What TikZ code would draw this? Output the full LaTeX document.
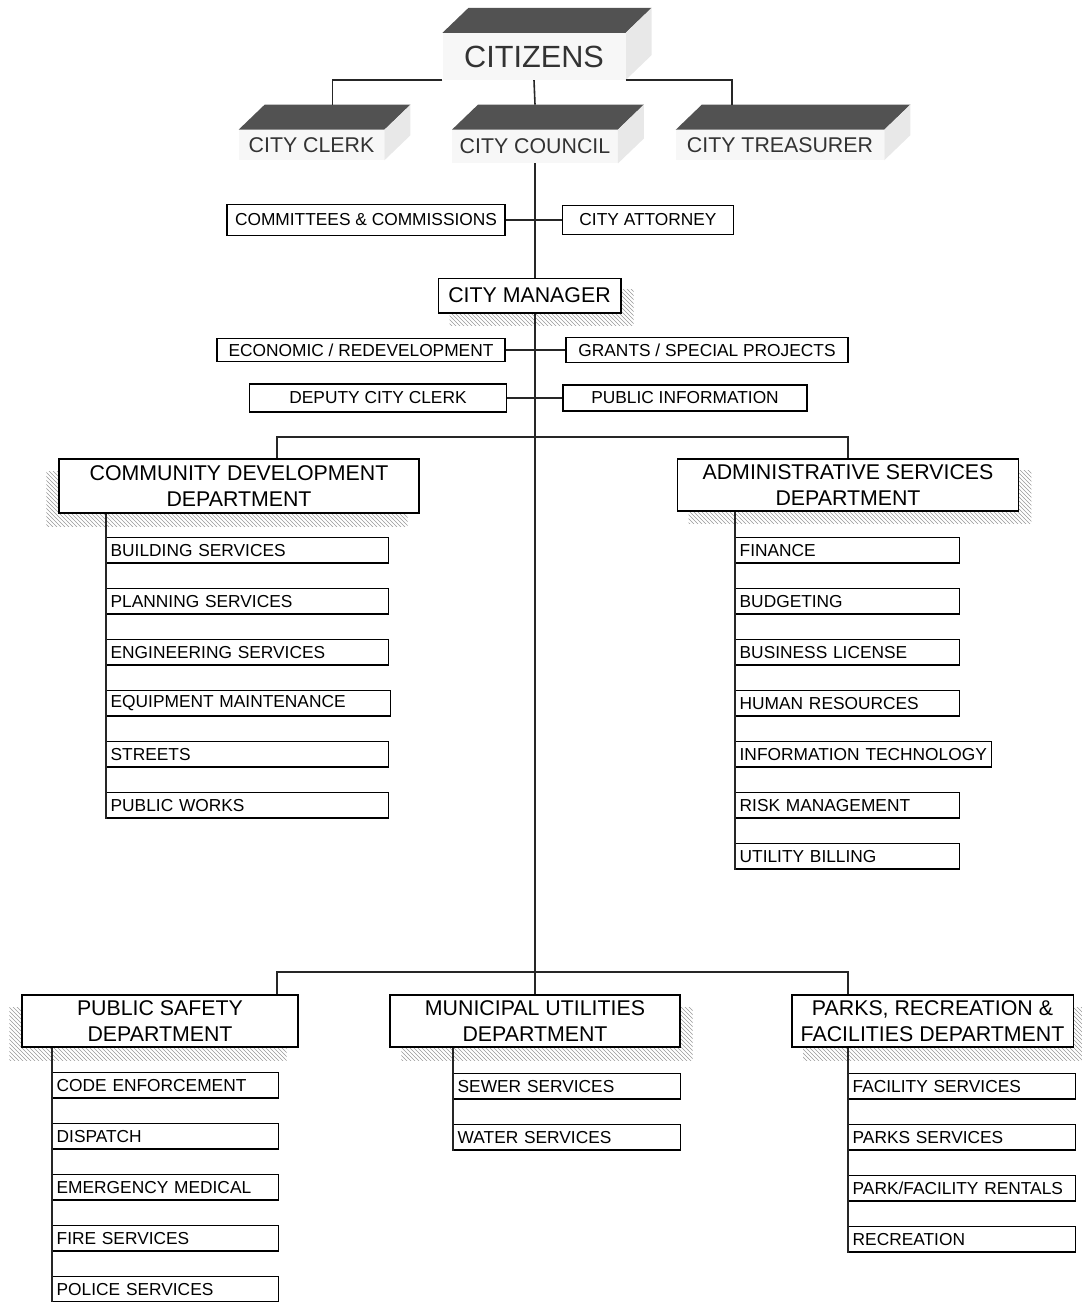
\documentclass[tikz,border=0pt]{standalone}
\usepackage{fontspec}
\setmainfont{Liberation Sans}
\usepackage{tikz}
\usetikzlibrary{calc,positioning,patterns}
\pgfdeclarelayer{bg}
\pgfsetlayers{bg,main}
\tikzstyle{link}=[line width=1.2pt,black!85]
\tikzstyle{Cthree}=[fill=gray!6,inner sep=0pt,text=black!80,font=\fontsize{16}{19}\selectfont]
\tikzstyle{Ctop}=[fill=black!68]
\tikzstyle{Cside}=[fill=gray!18]
\tikzstyle{Cbox}=[draw,line width=1pt,fill=white,inner sep=1pt,font=\fontsize{13}{15}\selectfont]
\tikzstyle{Chead}=[draw,line width=1pt,fill=white,inner sep=1pt,align=center,
               font=\fontsize{16}{20}\selectfont]
\tikzstyle{Cshadow}=[pattern=north west lines,pattern color=gray!80]
\tikzset{Cunit/.style={draw,line width=1pt,fill=white,anchor=north west,align=left,
               text width=#1,minimum height=19pt,inner xsep=3pt,inner ysep=0pt,
               font=\fontsize{13}{15}\selectfont}}

\begin{document}
\begin{tikzpicture}[x=0.75pt,y=-0.75pt]
  \useasboundingbox (0,0) rectangle (1081,1302);
  % elected
  \node[Cthree,minimum width=137pt,minimum height=35pt,font=\fontsize{23}{27}\selectfont] (cz) at (534,56.5) {CITIZENS};
  \node[Cthree,minimum width=109pt,minimum height=22.5pt] (ck) at (311.5,145) {CITY CLERK};
  \node[Cthree,minimum width=124pt,minimum height=25pt] (cc) at (535,146.5) {CITY COUNCIL};
  \node[Cthree,minimum width=156pt,minimum height=22.5pt] (ct) at (780,145) {CITY TREASURER};
  \fill[Ctop] (cz.north west) -- ++(26,-25) -- ($(cz.north east)+(26,-25)$) -- (cz.north east) -- cycle;
  \fill[Cside] (cz.north east) -- ++(26,-25) -- ($(cz.south east)+(26,-25)$) -- (cz.south east) -- cycle;
  \fill[Ctop] (ck.north west) -- ++(26,-25) -- ($(ck.north east)+(26,-25)$) -- (ck.north east) -- cycle;
  \fill[Cside] (ck.north east) -- ++(26,-25) -- ($(ck.south east)+(26,-25)$) -- (ck.south east) -- cycle;
  \fill[Ctop] (cc.north west) -- ++(26,-25) -- ($(cc.north east)+(26,-25)$) -- (cc.north east) -- cycle;
  \fill[Cside] (cc.north east) -- ++(26,-25) -- ($(cc.south east)+(26,-25)$) -- (cc.south east) -- cycle;
  \fill[Ctop] (ct.north west) -- ++(26,-25) -- ($(ct.north east)+(26,-25)$) -- (ct.north east) -- cycle;
  \fill[Cside] (ct.north east) -- ++(26,-25) -- ($(ct.south east)+(26,-25)$) -- (ct.south east) -- cycle;
  \draw[link] (cz.south west) -| ($(ck.north)+(21,-25)$);
  \draw[link] (cz.south) -- ($(cc.north)+(0,-25)$);
  \draw[link] (cz.south east) -| ($(ct.north)+(-48,-25)$);

  % staff
  \node[Cbox,minimum width=208.5pt,minimum height=23pt] (cmt) at (366,220) {COMMITTEES \& COMMISSIONS};
  \node[Cbox,minimum width=128pt,minimum height=22pt] (att) at (648,220) {CITY ATTORNEY};
  \node[Cbox,minimum width=137pt,minimum height=26pt,font=\fontsize{16}{19}\selectfont] (cm) at (529.5,295.5) {CITY MANAGER};
  \node[Cbox,minimum width=216pt,minimum height=17.5pt] (ec) at (361,350) {ECONOMIC / REDEVELOPMENT};
  \node[Cbox,minimum width=211.5pt,minimum height=19pt] (gr) at (707,350) {GRANTS / SPECIAL PROJECTS};
  \node[Cbox,minimum width=193pt,minimum height=21pt] (dc) at (378,398) {DEPUTY CITY CLERK};
  \node[Cbox,minimum width=183pt,minimum height=19.5pt] (pi) at (685,398) {PUBLIC INFORMATION};
  \draw[link] (cmt.east) -- (att.west);
  \draw[link] (ec.east) -- (gr.west);
  \draw[link] (dc.east) -- (pi.west);

  % departments
  \node[Chead,minimum width=270pt,minimum height=40.5pt] (cd) at (239,486) {COMMUNITY DEVELOPMENT\\DEPARTMENT};
  \node[Chead,minimum width=256pt,minimum height=39pt] (as) at (848,485) {ADMINISTRATIVE SERVICES\\DEPARTMENT};
  \node[Chead,minimum width=207pt,minimum height=39pt] (ps) at (160,1021) {PUBLIC SAFETY\\DEPARTMENT};
  \node[Chead,minimum width=217.5pt,minimum height=39pt] (mu) at (535,1021) {MUNICIPAL UTILITIES\\DEPARTMENT};
  \node[Chead,minimum width=211pt,minimum height=39pt] (pk) at (932.5,1021) {PARKS, RECREATION \&\\FACILITIES DEPARTMENT};
  \begin{pgfonlayer}{bg}
    \fill[Cshadow] ($(cm.south west)+(12,12)$) rectangle ($(cm.north east)+(12,12)$);
    \fill[Cshadow] ($(cd.south west)+(-12,13)$) rectangle ($(cd.north east)+(-12,13)$);
    \fill[Cshadow] ($(as.south west)+(12,12)$) rectangle ($(as.north east)+(12,12)$);
    \fill[Cshadow] ($(ps.south west)+(-12,13)$) rectangle ($(ps.north east)+(-12,13)$);
    \fill[Cshadow] ($(mu.south west)+(12,13)$) rectangle ($(mu.north east)+(12,13)$);
    \fill[Cshadow] ($(pk.south west)+(12,13)$) rectangle ($(pk.north east)+(12,13)$);
  \end{pgfonlayer}
  \coordinate (b1l) at (277,437);
  \coordinate (b1r) at (848,437);
  \coordinate (b2l) at (277,972);
  \coordinate (b2r) at (848,972);
  \draw[link] (cc.south) -- (cc.south |- cm.north);
  \draw[link] (cc.south |- cm.south) -- (mu.north);
  \draw[link] (cd.north -| b1l) -- (b1l) -- (b1r) -- (as.north);
  \draw[link] (ps.north -| b2l) -- (b2l) -- (b2r) -- (pk.north -| b2r);

  % community development
  \node[Cunit=205.5pt] (cd1) at (106,537) {BUILDING SERVICES};
  \node[below=18.25pt of cd1.south west,Cunit=205.5pt] (cd2) {PLANNING SERVICES};
  \node[below=18.25pt of cd2.south west,Cunit=205.5pt] (cd3) {ENGINEERING SERVICES};
  \node[below=18.25pt of cd3.south west,Cunit=207pt] (cd4) {EQUIPMENT MAINTENANCE};
  \node[below=18.25pt of cd4.south west,Cunit=205.5pt] (cd5) {STREETS};
  \node[below=18.25pt of cd5.south west,Cunit=205.5pt] (cd6) {PUBLIC WORKS};
  \draw[link] (cd.south -| cd1.west) -- (cd6.south west);

  % administrative services
  \node[Cunit=162pt] (as1) at (735,537) {FINANCE};
  \node[below=18.25pt of as1.south west,Cunit=162pt] (as2) {BUDGETING};
  \node[below=18.25pt of as2.south west,Cunit=162pt] (as3) {BUSINESS LICENSE};
  \node[below=18.25pt of as3.south west,Cunit=162pt] (as4) {HUMAN RESOURCES};
  \node[below=18.25pt of as4.south west,Cunit=186pt] (as5) {INFORMATION TECHNOLOGY};
  \node[below=18.25pt of as5.south west,Cunit=162pt] (as6) {RISK MANAGEMENT};
  \node[below=18.25pt of as6.south west,Cunit=162pt] (as7) {UTILITY BILLING};
  \draw[link] (as.south -| as1.west) -- (as7.south west);

  % public safety
  \node[Cunit=163.5pt] (ps1) at (52,1072) {CODE ENFORCEMENT};
  \node[below=18.25pt of ps1.south west,Cunit=163.5pt] (ps2) {DISPATCH};
  \node[below=18.25pt of ps2.south west,Cunit=163.5pt] (ps3) {EMERGENCY MEDICAL};
  \node[below=18.25pt of ps3.south west,Cunit=163.5pt] (ps4) {FIRE SERVICES};
  \node[below=18.25pt of ps4.south west,Cunit=163.5pt] (ps5) {POLICE SERVICES};
  \draw[link] (ps.south -| ps1.west) -- (ps5.south west);

  % municipal utilities
  \node[Cunit=164pt] (mu1) at (453,1073) {SEWER SERVICES};
  \node[below=18.25pt of mu1.south west,Cunit=164pt] (mu2) {WATER SERVICES};
  \draw[link] (mu.south -| mu1.west) -- (mu2.south west);

  % parks, recreation & facilities
  \node[Cunit=164pt] (pk1) at (848,1073) {FACILITY SERVICES};
  \node[below=18.25pt of pk1.south west,Cunit=164pt] (pk2) {PARKS SERVICES};
  \node[below=18.25pt of pk2.south west,Cunit=164pt] (pk3) {PARK/FACILITY RENTALS};
  \node[below=18.25pt of pk3.south west,Cunit=164pt] (pk4) {RECREATION};
  \draw[link] (pk.south -| pk1.west) -- (pk4.south west);
\end{tikzpicture}
\end{document}
